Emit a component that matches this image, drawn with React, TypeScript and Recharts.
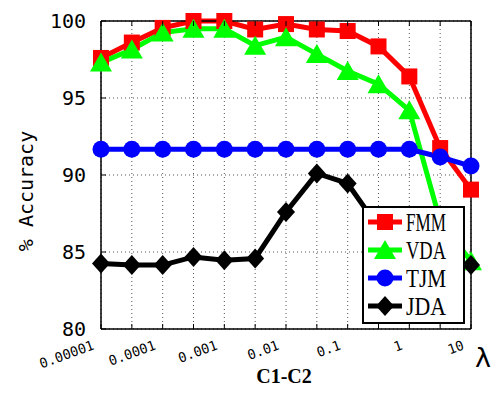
import { LineChart, Line, XAxis, YAxis, CartesianGrid, Legend } from 'recharts';

// lambda values, one point per half decade, labels on every other point
const lambdaLabels = ['0.00001', '', '0.0001', '', '0.001', '', '0.01', '', '0.1', '', '1', '', '10'];
const yTicks = [80, 85, 90, 95, 100];

const fmmValues = [97.6, 98.6, 99.55, 100, 100, 99.45, 99.8, 99.45, 99.35, 98.35, 96.4, 91.75, 89.05];
const vdaValues = [97.3, 98.15, 99.25, 99.5, 99.5, 98.4, 98.95, 97.85, 96.75, 95.9, 94.2, 87.0, 84.4];
const tjmValues = [91.67, 91.67, 91.67, 91.67, 91.67, 91.67, 91.67, 91.67, 91.67, 91.67, 91.67, 91.17, 90.58];
const jdaValues = [84.26, 84.15, 84.15, 84.68, 84.47, 84.58, 87.6, 90.1, 89.45, 86.6, 84.6, 84.3, 84.15];

const series = [
  { key: 'fmm', name: 'FMM', color: '#ff0000', shape: 'square' },
  { key: 'vda', name: 'VDA', color: '#00ff00', shape: 'triangle' },
  { key: 'tjm', name: 'TJM', color: '#0000ff', shape: 'circle' },
  { key: 'jda', name: 'JDA', color: '#000000', shape: 'diamond' },
];

const data = lambdaLabels.map((label, i) => ({
  i,
  label,
  fmm: fmmValues[i],
  vda: vdaValues[i],
  tjm: tjmValues[i],
  jda: jdaValues[i],
}));

const MONO = '"DejaVu Sans Mono", monospace';

function Marker({ shape, color, cx, cy }: { shape: string; color: string; cx: number; cy: number }) {
  if (shape === 'square') {
    return <rect x={cx - 8} y={cy - 8} width={16} height={16} fill={color} />;
  }
  if (shape === 'triangle') {
    return <polygon points={`${cx},${cy - 10} ${cx - 11},${cy + 9} ${cx + 11},${cy + 9}`} fill={color} />;
  }
  if (shape === 'circle') {
    return <circle cx={cx} cy={cy} r={8.5} fill={color} />;
  }
  return <polygon points={`${cx},${cy - 10} ${cx + 9},${cy} ${cx},${cy + 10} ${cx - 9},${cy}`} fill={color} />;
}

const BottomTick = (props: any) => {
  const { x, y, payload } = props;
  const label = lambdaLabels[payload.value];
  return (
    <g>
      <line x1={x} y1={y} x2={x} y2={y - 5} stroke="#000" strokeWidth={1} />
      {label && (
        <text
          x={x - 6}
          y={y + 20}
          textAnchor="end"
          fontSize={13.5}
          fontFamily={MONO}
          fill="#000"
          transform={`rotate(-20 ${x - 6} ${y + 20})`}
        >
          {label}
        </text>
      )}
    </g>
  );
};

const TopTick = (props: any) => {
  const { x, y } = props;
  return <line x1={x} y1={y} x2={x} y2={y + 5} stroke="#000" strokeWidth={1} />;
};

const LeftTick = (props: any) => {
  const { x, y, payload } = props;
  return (
    <g>
      <line x1={x} y1={y} x2={x + 5} y2={y} stroke="#000" strokeWidth={1} />
      <text x={x - 15} y={y + 7} textAnchor="end" fontSize={20} fontFamily={MONO} fill="#000">
        {payload.value}
      </text>
    </g>
  );
};

const RightTick = (props: any) => {
  const { x, y } = props;
  return <line x1={x} y1={y} x2={x - 5} y2={y} stroke="#000" strokeWidth={1} />;
};

const LegendBox = () => (
  <div
    style={{
      width: 103,
      height: 118,
      border: '2px solid #000',
      background: '#fff',
      boxSizing: 'border-box',
    }}
  >
    <svg width={99} height={114} style={{ display: 'block' }}>
      {series.map((s, idx) => {
        const cy = 14 + idx * 28;
        return (
          <g key={s.key}>
            <line x1={4} y1={cy} x2={38} y2={cy} stroke={s.color} strokeWidth={5} />
            <Marker shape={s.shape} color={s.color} cx={21} cy={cy} />
            <text
              x={42}
              y={cy + 9}
              fontSize={25}
              fontFamily='"Liberation Serif", serif'
              textLength={40}
              lengthAdjust="spacingAndGlyphs"
              fill="#000"
            >
              {s.name}
            </text>
          </g>
        );
      })}
    </svg>
  </div>
);

export default function App() {
  return (
    <div style={{ position: 'absolute', left: 0, top: 0, width: 493, height: 396, background: '#fff' }}>
      <LineChart width={493} height={396} data={data} margin={{ top: 0, right: 0, bottom: 0, left: 0 }}>
        <CartesianGrid stroke="#555" strokeDasharray="1 3" strokeWidth={1} />
        <XAxis
          dataKey="i"
          type="number"
          domain={[0, 12]}
          ticks={data.map((d) => d.i)}
          height={67}
          tickSize={0}
          tickMargin={0}
          tick={<BottomTick />}
          axisLine={{ stroke: '#000', strokeWidth: 1.5 }}
          tickLine={false}
          interval={0}
          label={{
            content: () => (
              <g>
                <text x={284} y={383} textAnchor="middle" fontSize={20} fontWeight="bold" fontFamily='"Liberation Serif", serif' fill="#000">
                  C1-C2
                </text>
                <text x={483} y={367} textAnchor="middle" fontSize={27} fontFamily='"DejaVu Sans", sans-serif' fill="#000">
                  λ
                </text>
              </g>
            ),
          }}
        />
        <XAxis
          xAxisId="top"
          orientation="top"
          dataKey="i"
          type="number"
          domain={[0, 12]}
          ticks={data.map((d) => d.i)}
          height={21}
          tickSize={0}
          tickMargin={0}
          tick={<TopTick />}
          axisLine={{ stroke: '#000', strokeWidth: 1.5 }}
          tickLine={false}
          interval={0}
        />
        <YAxis
          type="number"
          domain={[80, 100]}
          ticks={yTicks}
          width={101}
          tickSize={0}
          tickMargin={0}
          tick={<LeftTick />}
          axisLine={{ stroke: '#000', strokeWidth: 1.5 }}
          tickLine={false}
          interval={0}
          label={{
            content: () => (
              <text
                x={33}
                y={191}
                textAnchor="middle"
                fontSize={20}
                fontFamily={MONO}
                fill="#000"
                transform="rotate(-90 33 191)"
              >
                % Accuracy
              </text>
            ),
          }}
        />
        <YAxis
          yAxisId="right"
          orientation="right"
          type="number"
          domain={[80, 100]}
          ticks={yTicks}
          width={22}
          tickSize={0}
          tickMargin={0}
          tick={<RightTick />}
          axisLine={{ stroke: '#000', strokeWidth: 1.5 }}
          tickLine={false}
          interval={0}
        />
        <Legend
          layout="horizontal"
          verticalAlign="middle"
          align="center"
          wrapperStyle={{ left: 362, top: 206, width: 103, height: 118 }}
          content={<LegendBox />}
        />
        {series.map((s) => (
          <Line
            key={s.key}
            dataKey={s.key}
            name={s.name}
            type="linear"
            stroke={s.color}
            strokeWidth={5}
            isAnimationActive={false}
            activeDot={false}
            dot={(p: any) => <Marker key={`${s.key}-${p.index}`} shape={s.shape} color={s.color} cx={p.cx} cy={p.cy} />}
          />
        ))}
      </LineChart>
    </div>
  );
}
